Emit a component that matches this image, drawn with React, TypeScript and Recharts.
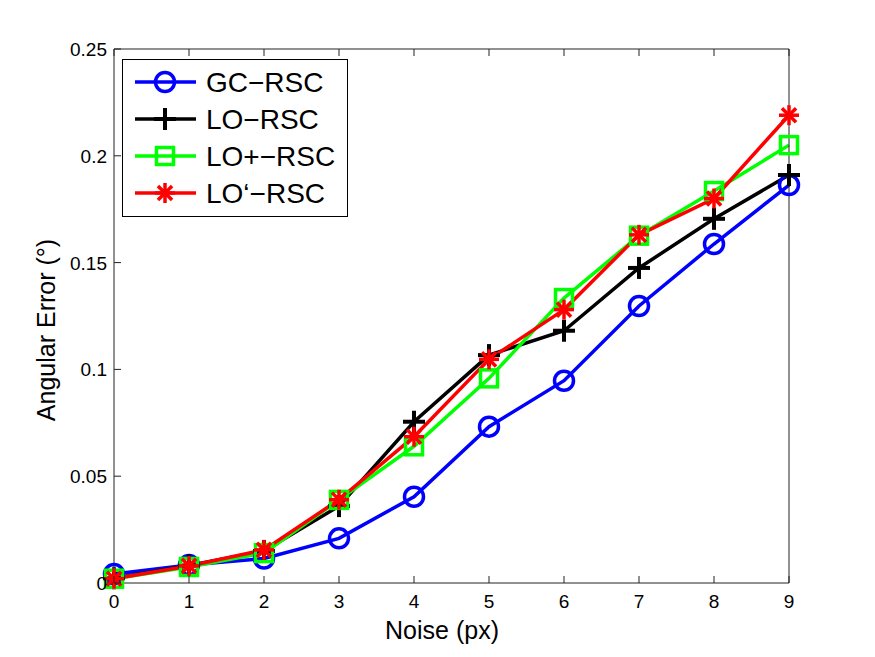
import React from "react";
import { LineChart, Line, XAxis, YAxis } from "recharts";

const noise = [0, 1, 2, 3, 4, 5, 6, 7, 8, 9];
const gcRsc = [0.0042, 0.0084, 0.0115, 0.0209, 0.0404, 0.0732, 0.0947, 0.1297, 0.1587, 0.1863];
const loRsc = [0.0022, 0.0082, 0.015, 0.036, 0.0755, 0.1067, 0.1181, 0.1475, 0.1705, 0.191];
const loPlusRsc = [0.002, 0.0075, 0.014, 0.0389, 0.064, 0.0958, 0.1334, 0.1626, 0.1835, 0.205];
const loPrimeRsc = [0.002, 0.008, 0.0155, 0.039, 0.0685, 0.1047, 0.128, 0.163, 0.18, 0.219];
const xTicks = [0, 1, 2, 3, 4, 5, 6, 7, 8, 9];
const yTicks = [0, 0.05, 0.1, 0.15, 0.2, 0.25];
const seriesNames = ["GC\u2212RSC", "LO\u2212RSC", "LO+\u2212RSC", "LO\u2018\u2212RSC"];

const data = noise.map((n, i) => ({
  noise: n,
  gc: gcRsc[i],
  lo: loRsc[i],
  loPlus: loPlusRsc[i],
  loPrime: loPrimeRsc[i],
}));

const FONT = "'Liberation Sans', Arial, Helvetica, sans-serif";
const AXIS = "#222";
const LW = 3.5;

type MarkerKind = "circle" | "plus" | "square" | "star";

function Marker({ kind, cx, cy, color }: { kind: MarkerKind; cx: number; cy: number; color: string }) {
  if (kind === "circle") {
    return <circle cx={cx} cy={cy} r={9.5} fill="none" stroke={color} strokeWidth={LW} />;
  }
  if (kind === "plus") {
    return (
      <g stroke={color} strokeWidth={4}>
        <line x1={cx - 11} y1={cy} x2={cx + 11} y2={cy} />
        <line x1={cx} y1={cy - 11} x2={cx} y2={cy + 11} />
      </g>
    );
  }
  if (kind === "square") {
    return <rect x={cx - 8.5} y={cy - 8.5} width={17} height={17} fill="none" stroke={color} strokeWidth={LW} />;
  }
  const r = 10;
  const lines = [0, 45, 90, 135].map((a) => {
    const rad = (a * Math.PI) / 180;
    return (
      <line
        key={a}
        x1={cx - r * Math.cos(rad)}
        y1={cy - r * Math.sin(rad)}
        x2={cx + r * Math.cos(rad)}
        y2={cy + r * Math.sin(rad)}
      />
    );
  });
  return (
    <g stroke={color} strokeWidth={3.5}>
      {lines}
    </g>
  );
}

const series: { key: string; color: string; kind: MarkerKind }[] = [
  { key: "gc", color: "#0000ff", kind: "circle" },
  { key: "lo", color: "#000000", kind: "plus" },
  { key: "loPlus", color: "#00ff00", kind: "square" },
  { key: "loPrime", color: "#ff0000", kind: "star" },
];

const makeDot = (kind: MarkerKind, color: string) => (props: any) => {
  const { cx, cy, index } = props;
  if (cx == null || cy == null) return <g key={`d-${index}`} />;
  return (
    <g key={`d-${kind}-${index}`}>
      <Marker kind={kind} cx={cx} cy={cy} color={color} />
    </g>
  );
};

const BottomTick = (props: any) => {
  const { x, y, payload } = props;
  return (
    <g>
      <line x1={x} y1={y} x2={x} y2={y - 7} stroke={AXIS} strokeWidth={1} />
      <text x={x} y={y + 25} textAnchor="middle" fontSize={19} fontFamily={FONT} fill="#000">
        {payload.value}
      </text>
    </g>
  );
};

const TopTick = (props: any) => {
  const { x, y } = props;
  return <line x1={x} y1={y} x2={x} y2={y + 7} stroke={AXIS} strokeWidth={1} />;
};

const LeftTick = (props: any) => {
  const { x, y, payload } = props;
  return (
    <g>
      <line x1={x} y1={y} x2={x + 7} y2={y} stroke={AXIS} strokeWidth={1} />
      <text x={x - 7} y={y + 7} textAnchor="end" fontSize={19} fontFamily={FONT} fill="#000">
        {String(payload.value)}
      </text>
    </g>
  );
};

const RightTick = (props: any) => {
  const { x, y } = props;
  return <line x1={x} y1={y} x2={x - 7} y2={y} stroke={AXIS} strokeWidth={1} />;
};

const LegendBox = () => (
  <svg
    width={227}
    height={159}
    style={{ position: "absolute", left: 122, top: 59, display: "block" }}
  >
    <rect x={0.5} y={0.5} width={225} height={157} fill="#fff" stroke="#000" strokeWidth={1} />
    {series.map((s, i) => {
      const cy = 23 + i * 37;
      return (
        <g key={s.key}>
          <line x1={13} y1={cy} x2={74} y2={cy} stroke={s.color} strokeWidth={LW} />
          <Marker kind={s.kind} cx={43} cy={cy} color={s.color} />
          <text x={84} y={cy + 10} fontSize={28} fontFamily={FONT} fill="#000">
            {seriesNames[i]}
          </text>
        </g>
      );
    })}
  </svg>
);

export default function App() {
  return (
    <div style={{ position: "absolute", left: 0, top: 0, width: 875, height: 657, background: "#fff" }}>
      <LineChart
        width={875}
        height={657}
        data={data}
        margin={{ top: 39, right: 76, bottom: 24, left: 44 }}
      >
        <XAxis
          xAxisId="bottom"
          dataKey="noise"
          type="number"
          domain={[0, 9]}
          ticks={xTicks}
          height={50}
          tickSize={0}
          tickMargin={0}
          tickLine={false}
          axisLine={{ stroke: AXIS, strokeWidth: 1 }}
          tick={<BottomTick />}
          interval={0}
        />
        <XAxis
          xAxisId="top"
          orientation="top"
          dataKey="noise"
          type="number"
          domain={[0, 9]}
          ticks={xTicks}
          height={10}
          tickSize={0}
          tickMargin={0}
          tickLine={false}
          axisLine={{ stroke: AXIS, strokeWidth: 1 }}
          tick={<TopTick />}
          interval={0}
        />
        <YAxis
          yAxisId="left"
          type="number"
          domain={[0, 0.25]}
          ticks={yTicks}
          width={70}
          tickSize={0}
          tickMargin={0}
          tickLine={false}
          axisLine={{ stroke: AXIS, strokeWidth: 1 }}
          tick={<LeftTick />}
          interval={0}
        />
        <YAxis
          yAxisId="right"
          orientation="right"
          type="number"
          domain={[0, 0.25]}
          ticks={yTicks}
          width={10}
          tickSize={0}
          tickMargin={0}
          tickLine={false}
          axisLine={{ stroke: AXIS, strokeWidth: 1 }}
          tick={<RightTick />}
          interval={0}
        />
        {series.map((s, i) => (
          <Line
            key={s.key}
            xAxisId="bottom"
            yAxisId="left"
            dataKey={s.key}
            name={seriesNames[i]}
            stroke={s.color}
            strokeWidth={LW}
            type="linear"
            dot={makeDot(s.kind, s.color)}
            activeDot={false}
            isAnimationActive={false}
          />
        ))}
      </LineChart>
      <LegendBox />
      <div
        style={{
          position: "absolute",
          left: 442,
          top: 630,
          transform: "translate(-50%, -50%)",
          fontFamily: FONT,
          fontSize: 25,
          whiteSpace: "nowrap",
        }}
      >
        Noise (px)
      </div>
      <div
        style={{
          position: "absolute",
          left: 46,
          top: 330,
          transform: "translate(-50%, -50%) rotate(-90deg)",
          fontFamily: FONT,
          fontSize: 25,
          whiteSpace: "nowrap",
        }}
      >
        Angular Error (°)
      </div>
    </div>
  );
}
